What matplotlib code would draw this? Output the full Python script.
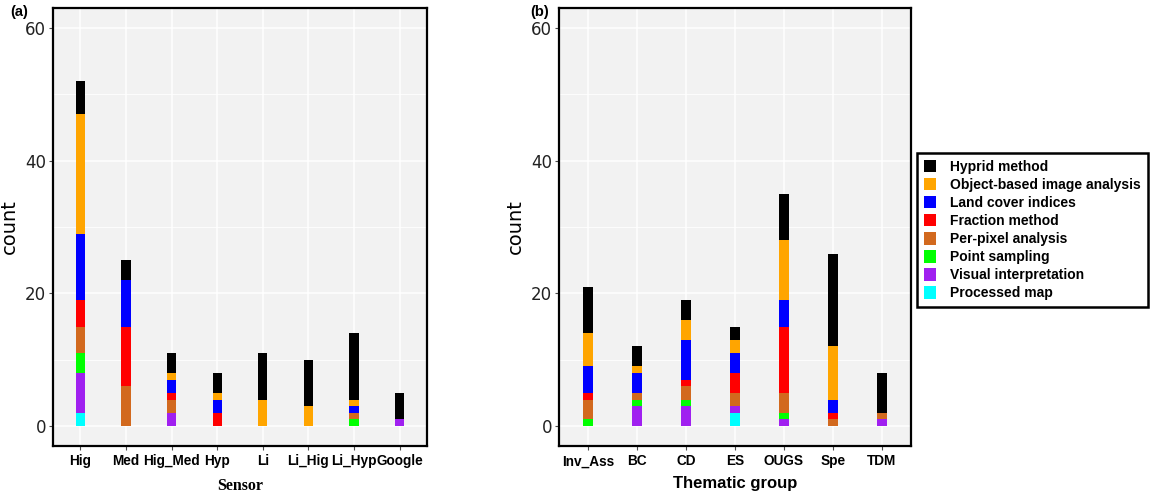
import numpy as np
import matplotlib
matplotlib.use("Agg")
import matplotlib.pyplot as plt
from matplotlib.patches import Patch

# Panel (a): counts per sensor
sensors = ["Hig", "Med", "Hig_Med", "Hyp", "Li", "Li_Hig", "Li_Hyp", "Google"]
pm_a = [2, 0, 0, 0, 0, 0, 0, 0]
vi_a = [6, 0, 2, 0, 0, 0, 0, 1]
ps_a = [3, 0, 0, 0, 0, 0, 1, 0]
pp_a = [4, 6, 2, 0, 0, 0, 1, 0]
frac_a = [4, 9, 1, 2, 0, 0, 0, 0]
lci_a = [10, 7, 2, 2, 0, 0, 1, 0]
obia_a = [18, 0, 1, 1, 4, 3, 1, 0]
hyb_a = [5, 3, 3, 3, 7, 7, 10, 4]

# Panel (b): counts per thematic group
groups = ["Inv_Ass", "BC", "CD", "ES", "OUGS", "Spe", "TDM"]
pm_b = [0, 0, 0, 2, 0, 0, 0]
vi_b = [0, 3, 3, 1, 1, 0, 1]
ps_b = [1, 1, 1, 0, 1, 0, 0]
pp_b = [3, 1, 2, 2, 3, 1, 1]
frac_b = [1, 0, 1, 3, 10, 1, 0]
lci_b = [4, 3, 6, 3, 4, 2, 0]
obia_b = [5, 1, 3, 2, 9, 8, 0]
hyb_b = [7, 3, 3, 2, 7, 14, 6]

methods = ["Hyprid method", "Object-based image analysis", "Land cover indices",
           "Fraction method", "Per-pixel analysis", "Point sampling",
           "Visual interpretation", "Processed map"]
colors = ["#000000", "#FFA500", "#0000FF", "#FF0000", "#D2691E", "#00FF00",
          "#A020F0", "#00FFFF"]

fig = plt.figure(figsize=(11.55, 4.96), dpi=100)
ax1 = fig.add_axes([53/1155, 1-446/496, 374/1155, 438/496])
ax2 = fig.add_axes([559/1155, 1-446/496, 352/1155, 438/496])


def draw(ax, cats, stacks):
    x = np.arange(1, len(cats) + 1)
    bottom = np.zeros(len(cats))
    # stacks go bottom -> top
    for vals, col in stacks:
        v = np.array(vals, dtype=float)
        ax.bar(x, v, bottom=bottom, width=0.2, color=col, edgecolor="none", zorder=3)
        bottom += v
    ax.set_xlim(0.4, len(cats) + 0.6)
    ax.set_ylim(-3, 63)
    ax.set_facecolor("#F2F2F2")
    ax.set_yticks([0, 20, 40, 60])
    ax.set_yticks([10, 30, 50], minor=True)
    ax.set_xticks(x)
    ax.set_xticklabels(cats, fontweight="bold", fontsize=9.8, family="Liberation Sans")
    ax.tick_params(axis="y", labelsize=12, colors="#4D4D4D", length=3, pad=2,
                   labelcolor="#222222")
    ax.tick_params(axis="y", which="minor", length=0)
    ax.tick_params(axis="x", length=3, colors="#4D4D4D", labelcolor="black", pad=3)
    ax.grid(True, which="major", color="white", lw=1.1, zorder=0)
    ax.grid(True, which="minor", axis="y", color="white", lw=0.6, zorder=0)
    for s in ax.spines.values():
        s.set_linewidth(1.6)
        s.set_color("black")
    ax.set_ylabel("count", fontsize=14)


cols_rev = colors[::-1]
draw(ax1, sensors, list(zip([pm_a, vi_a, ps_a, pp_a, frac_a, lci_a, obia_a, hyb_a], cols_rev)))
draw(ax2, groups, list(zip([pm_b, vi_b, ps_b, pp_b, frac_b, lci_b, obia_b, hyb_b], cols_rev)))
ax1.yaxis.set_label_coords(-0.091, 0.5)
ax2.yaxis.set_label_coords(-0.097, 0.5)

ax1.set_xlabel("Sensor", fontsize=11.5, fontweight="bold", family="Liberation Serif")
ax2.set_xlabel("Thematic group", fontsize=12, fontweight="bold", family="Liberation Sans")
ax1.xaxis.set_label_coords(0.5, -0.073)
ax2.xaxis.set_label_coords(0.5, -0.068)

fig.text(10/1155, 1-16/496, "(a)", fontsize=10.5, fontweight="bold", family="Liberation Sans")
fig.text(530/1155, 1-16/496, "(b)", fontsize=10.5, fontweight="bold", family="Liberation Sans")

handles = [Patch(facecolor=c, edgecolor="none") for c in colors]
leg = fig.legend(handles, methods, loc="upper left", bbox_to_anchor=(917/1155, 1-153/496),
                 prop={"weight": "bold", "size": 10, "family": "Liberation Sans"},
                 frameon=True, fancybox=False, framealpha=1, edgecolor="black",
                 handlelength=0.9, handleheight=1.0, handletextpad=1.0,
                 labelspacing=0.29, borderpad=0.5, borderaxespad=0)
leg.get_frame().set_linewidth(1.8)

fig.savefig("out.png", dpi=100, facecolor="white")
